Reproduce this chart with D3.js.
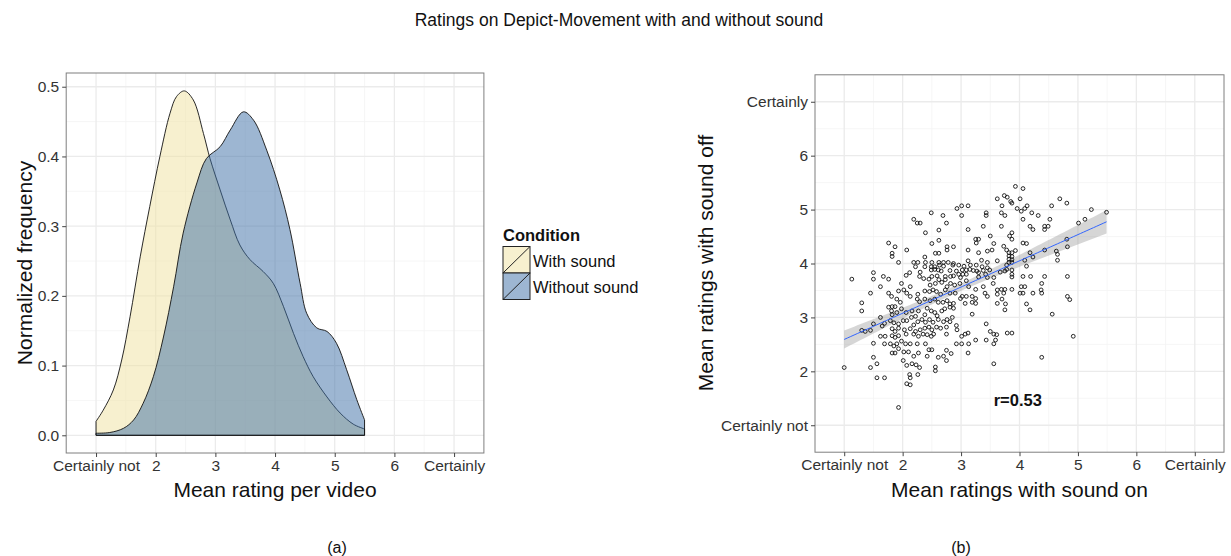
<!DOCTYPE html>
<html>
<head>
<meta charset="utf-8">
<script src="https://cdn.jsdelivr.net/npm/d3@7"></script>
<style>
  body { margin: 0; background: #fff; }
  text { font-family: "Liberation Sans", Arial, sans-serif; }
</style>
</head>
<body>
<svg id="chart" width="1231" height="556"></svg>
<script>
// ---- data ---------------------------------------------------------------
const titleText = "Ratings on Depict-Movement with and without sound";

const ratingTicks = [1, 2, 3, 4, 5, 6, 7];
const ratingTickLabels = ["Certainly not", "2", "3", "4", "5", "6", "Certainly"];
const freqTicks = [0, 0.1, 0.2, 0.3, 0.4, 0.5];

const conditions = ["With sound", "Without sound"];

// normalized density of mean rating per video: [rating, frequency]
const densityWithSound = [
  [1.00, 0.020], [1.12, 0.036], [1.29, 0.065], [1.43, 0.108], [1.57, 0.170],
  [1.74, 0.256], [1.90, 0.328], [2.07, 0.400], [2.24, 0.462], [2.35, 0.486],
  [2.48, 0.494], [2.63, 0.481], [2.80, 0.433], [2.91, 0.397], [3.08, 0.352],
  [3.25, 0.309], [3.41, 0.273], [3.58, 0.252], [3.80, 0.235], [3.97, 0.218],
  [4.14, 0.185], [4.31, 0.146], [4.47, 0.113], [4.64, 0.084], [4.87, 0.055],
  [5.09, 0.032], [5.31, 0.016], [5.50, 0.009]
];
const densityWithoutSound = [
  [1.00, 0.003], [1.23, 0.004], [1.46, 0.010], [1.63, 0.022], [1.79, 0.046],
  [1.96, 0.084], [2.13, 0.141], [2.30, 0.213], [2.46, 0.290], [2.69, 0.362],
  [2.85, 0.397], [3.08, 0.414], [3.25, 0.438], [3.47, 0.464], [3.64, 0.452],
  [3.86, 0.409], [4.08, 0.352], [4.25, 0.295], [4.42, 0.218], [4.53, 0.175],
  [4.70, 0.154], [4.87, 0.149], [5.03, 0.132], [5.20, 0.094], [5.37, 0.051],
  [5.50, 0.022]
];

// per-video mean ratings: [sound on, sound off]
const ratingPairs = [
  [3.93,5.43],[4.06,5.39],[3.62,5.20],[3.74,5.26],[3.79,5.23],[3.85,5.15],[3.87,5.12],[4.01,5.20],
  [4.69,5.20],[4.81,5.12],[2.93,5.02],[3.01,5.07],[3.12,5.07],[3.70,5.07],[3.96,5.02],[4.13,5.07],
  [4.03,4.97],[4.09,5.02],[4.55,5.07],[5.23,5.00],[5.49,4.95],[2.49,4.94],[2.69,4.89],[3.01,4.89],
  [3.43,4.94],[3.43,4.89],[3.69,4.94],[3.75,4.89],[4.21,4.94],[4.32,4.89],[2.19,4.82],[2.25,4.75],
  [2.30,4.75],[2.75,4.75],[4.06,4.82],[4.52,4.82],[5.01,4.75],[5.12,4.82],[3.38,4.69],[3.69,4.69],
  [4.18,4.69],[4.23,4.63],[4.43,4.69],[4.49,4.69],[4.43,4.63],[3.12,4.63],[2.62,4.62],[2.39,4.57],
  [3.87,4.57],[3.83,4.51],[3.50,4.51],[3.25,4.45],[3.30,4.45],[3.87,4.45],[3.26,4.38],[3.56,4.37],
  [2.62,4.43],[2.50,4.37],[4.81,4.45],[4.82,4.31],[1.76,4.38],[1.87,4.31],[2.76,4.31],[2.87,4.31],
  [4.06,4.38],[4.12,4.37],[3.73,4.32],[3.78,4.25],[3.53,4.25],[3.45,4.23],[3.12,4.25],[2.07,4.25],
  [4.18,4.20],[4.43,4.25],[4.63,4.23],[1.82,4.19],[1.82,4.13],[2.56,4.19],[2.62,4.19],[2.38,4.12],
  [2.76,4.25],[3.30,4.20],[3.82,4.20],[3.87,4.20],[3.93,4.24],[3.82,4.14],[3.87,4.13],[3.82,4.08],
  [3.87,4.07],[4.23,4.12],[4.65,4.17],[1.93,4.02],[2.19,4.02],[2.26,4.02],[2.39,4.02],[2.50,4.02],
  [2.62,4.02],[2.70,4.02],[2.78,4.02],[2.87,4.00],[3.12,4.05],[3.35,4.06],[3.45,4.02],[3.62,4.05],
  [3.82,4.02],[3.87,4.02],[4.09,4.06],[4.65,4.06],[2.22,3.94],[2.38,3.94],[2.49,3.94],[2.55,3.94],
  [2.63,3.97],[2.70,3.95],[2.86,3.97],[2.96,3.97],[3.05,3.95],[3.16,3.97],[3.26,3.97],[3.36,3.94],
  [3.45,3.92],[3.78,3.97],[4.12,3.95],[2.12,3.83],[2.30,3.84],[2.49,3.88],[2.55,3.89],[2.61,3.88],
  [2.66,3.86],[2.81,3.87],[2.92,3.86],[3.02,3.88],[3.09,3.88],[3.15,3.89],[3.21,3.87],[3.27,3.86],
  [3.30,3.83],[3.38,3.87],[3.49,3.88],[3.67,3.84],[3.75,3.86],[3.78,3.89],[3.87,3.88],[1.50,3.83],
  [1.13,3.71],[1.50,3.71],[1.67,3.76],[1.76,3.71],[2.06,3.78],[2.29,3.76],[2.36,3.72],[2.45,3.71],
  [2.50,3.76],[2.59,3.77],[2.73,3.76],[2.82,3.76],[2.87,3.77],[2.96,3.80],[3.03,3.80],[3.09,3.80],
  [2.99,3.74],[3.30,3.75],[3.42,3.80],[3.45,3.74],[3.56,3.74],[3.87,3.80],[3.87,3.75],[4.06,3.76],
  [4.19,3.76],[4.43,3.76],[4.82,3.76],[1.62,3.57],[1.98,3.63],[2.13,3.57],[2.02,3.51],[2.47,3.60],
  [2.56,3.63],[2.62,3.70],[2.67,3.65],[2.73,3.70],[2.76,3.57],[2.82,3.63],[2.89,3.60],[2.98,3.63],
  [3.09,3.68],[3.13,3.57],[3.25,3.52],[3.38,3.57],[3.55,3.63],[3.62,3.51],[3.69,3.52],[3.75,3.52],
  [3.87,3.52],[4.03,3.57],[4.09,3.57],[4.38,3.63],[4.37,3.51],[1.45,3.45],[1.76,3.45],[1.81,3.39],
  [1.93,3.49],[2.07,3.45],[2.13,3.39],[2.26,3.43],[2.38,3.49],[2.46,3.48],[2.52,3.51],[2.58,3.48],
  [2.65,3.43],[2.73,3.51],[2.81,3.45],[2.90,3.45],[3.02,3.39],[3.09,3.39],[3.19,3.39],[3.25,3.35],
  [3.41,3.45],[3.45,3.39],[3.62,3.43],[3.73,3.45],[4.01,3.45],[4.06,3.45],[4.23,3.45],[4.38,3.45],
  [1.30,3.27],[1.30,3.12],[1.82,3.20],[1.90,3.34],[1.96,3.28],[2.25,3.34],[2.29,3.29],[2.38,3.34],
  [2.47,3.31],[2.55,3.34],[2.61,3.28],[2.69,3.28],[2.76,3.31],[2.81,3.25],[2.87,3.26],[2.99,3.35],
  [3.07,3.26],[3.19,3.28],[3.25,3.26],[3.62,3.26],[3.70,3.34],[3.76,3.25],[4.12,3.25],[4.18,3.14],
  [4.82,3.39],[4.86,3.33],[3.75,3.14],[1.62,3.00],[1.76,3.19],[1.81,3.12],[1.87,3.20],[1.82,3.05],
  [1.90,3.09],[1.98,3.16],[2.06,3.09],[2.16,3.12],[2.22,3.02],[2.27,3.12],[2.38,3.05],[2.42,3.17],
  [2.49,3.12],[2.55,3.09],[2.59,3.03],[2.67,3.12],[2.72,3.16],[2.81,3.19],[2.87,3.17],[2.85,3.00],
  [3.19,3.06],[4.56,3.06],[1.65,2.84],[1.69,2.89],[1.79,2.94],[1.85,2.90],[1.93,2.88],[2.01,2.94],
  [2.07,2.94],[2.15,3.00],[2.19,2.86],[2.26,2.92],[2.33,2.96],[2.39,2.91],[2.46,2.96],[2.52,2.91],
  [2.61,2.96],[2.70,2.92],[2.76,2.96],[2.81,2.92],[1.30,2.76],[1.36,2.74],[1.45,2.76],[1.50,2.88],
  [1.82,2.79],[1.87,2.74],[1.93,2.80],[2.03,2.77],[2.13,2.79],[2.22,2.74],[2.30,2.77],[2.38,2.80],
  [2.45,2.82],[2.50,2.77],[2.58,2.82],[2.65,2.80],[2.75,2.82],[2.92,2.85],[2.93,2.77],[3.43,2.88],
  [1.50,2.52],[1.62,2.65],[1.70,2.65],[1.82,2.66],[1.87,2.63],[1.93,2.66],[1.98,2.56],[2.06,2.69],
  [2.19,2.69],[2.27,2.65],[2.35,2.69],[2.42,2.68],[2.49,2.65],[2.53,2.69],[2.75,2.69],[3.01,2.65],
  [3.07,2.69],[3.12,2.71],[3.50,2.74],[3.56,2.69],[3.61,2.68],[3.79,2.71],[3.87,2.71],[4.92,2.65],
  [1.69,2.51],[1.79,2.51],[1.85,2.47],[1.90,2.51],[1.93,2.42],[2.05,2.51],[2.13,2.51],[2.25,2.51],
  [2.39,2.51],[2.45,2.40],[2.50,2.40],[2.92,2.51],[3.01,2.51],[3.13,2.51],[3.25,2.58],[3.43,2.58],
  [3.56,2.51],[3.59,2.58],[1.82,2.34],[1.87,2.34],[2.02,2.36],[2.10,2.36],[2.19,2.28],[2.27,2.34],
  [2.42,2.28],[2.61,2.26],[2.70,2.28],[2.75,2.39],[2.83,2.33],[3.12,2.34],[1.50,2.26],[2.01,2.20],
  [2.16,2.14],[2.23,2.12],[2.29,2.07],[2.75,2.20],[2.56,2.08],[2.56,2.01],[3.56,2.14],[4.38,2.26],
  [1.00,2.07],[1.45,2.07],[1.56,2.14],[1.56,1.88],[1.69,1.88],[2.07,2.11],[2.12,1.94],[2.13,1.88],
  [2.26,1.94],[2.07,1.77],[2.13,1.75],[1.93,1.33]
];

const corrLabel = "r=0.53";
const corrLabelAt = [3.97, 1.47];

// ---- drawing ------------------------------------------------------------
const svg = d3.select("#chart");
const gridMajor = "#ebebeb", gridMinor = "#f4f4f4", borderCol = "#7f7f7f", tickTextCol = "#333";
const fills = ["#efe2a0", "#3b6da6"];
const fillOpacity = [0.5, 0.5];
const tickFont = "15.5px", titleFont = "21px", legendFont = "16.5px";

svg.append("text")
  .attr("x", 619).attr("y", 26).attr("text-anchor", "middle")
  .style("font-size", "17.5px").attr("fill", "#111")
  .text(titleText);

function halfSteps(ticks) {
  const out = [];
  for (let i = 0; i < ticks.length - 1; i++) out.push((ticks[i] + ticks[i + 1]) / 2);
  return out;
}

function panel(x, y, xMajor, yMajor) {
  const g = svg.append("g");
  const [x0, x1] = x.range(), [y0, y1] = y.range();
  g.selectAll(".vmin").data(halfSteps(xMajor)).join("line")
    .attr("x1", d => x(d)).attr("x2", d => x(d)).attr("y1", y0).attr("y2", y1)
    .attr("stroke", gridMinor).attr("stroke-width", 0.8);
  g.selectAll(".hmin").data(halfSteps(yMajor)).join("line")
    .attr("y1", d => y(d)).attr("y2", d => y(d)).attr("x1", x0).attr("x2", x1)
    .attr("stroke", gridMinor).attr("stroke-width", 0.8);
  g.selectAll(".vmaj").data(xMajor).join("line")
    .attr("x1", d => x(d)).attr("x2", d => x(d)).attr("y1", y0).attr("y2", y1)
    .attr("stroke", gridMajor).attr("stroke-width", 1.3);
  g.selectAll(".hmaj").data(yMajor).join("line")
    .attr("y1", d => y(d)).attr("y2", d => y(d)).attr("x1", x0).attr("x2", x1)
    .attr("stroke", gridMajor).attr("stroke-width", 1.3);
  return g;
}

function border(x, y) {
  const [x0, x1] = x.range(), [y0, y1] = y.range();
  svg.append("rect").attr("x", x0).attr("y", y1).attr("width", x1 - x0).attr("height", y0 - y1)
    .attr("fill", "none").attr("stroke", borderCol).attr("stroke-width", 1);
}

function styleAxis(g) {
  g.select(".domain").remove();
  g.selectAll(".tick line").attr("stroke", "#444");
  g.selectAll(".tick text").attr("fill", tickTextCol).style("font-size", tickFont)
    .style("font-family", "'Liberation Sans', Arial, sans-serif");
}

// ---- (a) density panel ----
const xa = d3.scaleLinear().domain([0.5, 7.5]).range([66.2, 483.9]);
const ya = d3.scaleLinear().domain([-0.0254, 0.5197]).range([453, 73]);
panel(xa, ya, ratingTicks, freqTicks);

const densityLine = d3.line().x(d => xa(d[0])).y(d => ya(d[1])).curve(d3.curveCatmullRom.alpha(0.5));
[densityWithSound, densityWithoutSound].forEach((series, i) => {
  // closed outline: baseline, left edge, density curve, right edge
  const first = series[0], last = series[series.length - 1];
  const outline = `M${xa(last[0])},${ya(0)}L${xa(first[0])},${ya(0)}L` + densityLine(series).slice(1) + "Z";
  svg.append("path").attr("d", outline)
    .attr("fill", fills[i]).attr("fill-opacity", fillOpacity[i])
    .attr("stroke", "#111").attr("stroke-width", 0.9).attr("stroke-linejoin", "round");
});
border(xa, ya);

svg.append("g").attr("transform", "translate(0,453)")
  .call(d3.axisBottom(xa).tickValues(ratingTicks).tickFormat((d, i) => ratingTickLabels[i]).tickSize(4).tickPadding(3))
  .call(styleAxis);
svg.append("g").attr("transform", "translate(66.2,0)")
  .call(d3.axisLeft(ya).tickValues(freqTicks).tickFormat(d3.format(".1f")).tickSize(4).tickPadding(3))
  .call(styleAxis);

svg.append("text").attr("x", 275).attr("y", 497).attr("text-anchor", "middle")
  .style("font-size", titleFont).attr("fill", "#111").text("Mean rating per video");
svg.append("text").attr("transform", "translate(32,263) rotate(-90)").attr("text-anchor", "middle")
  .style("font-size", titleFont).attr("fill", "#111").text("Normalized frequency");

// legend
const lg = svg.append("g").attr("transform", "translate(503,0)");
lg.append("text").attr("x", 0).attr("y", 241).style("font-size", legendFont).style("font-weight", "bold")
  .attr("fill", "#111").text("Condition");
conditions.forEach((c, i) => {
  const ky = 246.5 + i * 26.5;
  lg.append("rect").attr("x", 0).attr("y", ky).attr("width", 27).attr("height", 26.5).attr("fill", "#fff");
  lg.append("rect").attr("x", 0).attr("y", ky).attr("width", 27).attr("height", 26.5)
    .attr("fill", fills[i]).attr("fill-opacity", fillOpacity[i])
    .attr("stroke", "#222").attr("stroke-width", 1);
  lg.append("line").attr("x1", 0).attr("y1", ky + 26.5).attr("x2", 27).attr("y2", ky)
    .attr("stroke", "#222").attr("stroke-width", 1);
  lg.append("text").attr("x", 30).attr("y", ky + 20).style("font-size", legendFont).attr("fill", "#111").text(c);
});

// ---- (b) scatter panel ----
const xb = d3.scaleLinear().domain([0.5, 7.5]).range([815, 1224]);
const yb = d3.scaleLinear().domain([0.5, 7.5]).range([452.2, 74.8]);
panel(xb, yb, ratingTicks, ratingTicks);

// least-squares fit with 95% confidence band
const n = ratingPairs.length;
const mx = d3.mean(ratingPairs, d => d[0]), my = d3.mean(ratingPairs, d => d[1]);
const sxx = d3.sum(ratingPairs, d => (d[0] - mx) ** 2);
const sxy = d3.sum(ratingPairs, d => (d[0] - mx) * (d[1] - my));
const slope = sxy / sxx, intercept = my - slope * mx;
const resid = d3.sum(ratingPairs, d => (d[1] - (intercept + slope * d[0])) ** 2);
const se = Math.sqrt(resid / (n - 2));
const tCrit = 1.966;
const [xmin, xmax] = d3.extent(ratingPairs, d => d[0]);
const fitXs = d3.range(0, 81).map(i => xmin + (xmax - xmin) * i / 80);
const fit = fitXs.map(xv => {
  const yh = intercept + slope * xv;
  const h = tCrit * se * Math.sqrt(1 / n + (xv - mx) ** 2 / sxx);
  return { x: xv, y: yh, lo: yh - h, hi: yh + h };
});

svg.append("path").datum(fit)
  .attr("d", d3.area().x(d => xb(d.x)).y0(d => yb(d.lo)).y1(d => yb(d.hi)))
  .attr("fill", "#999").attr("fill-opacity", 0.4);

svg.append("g").selectAll("circle").data(ratingPairs).join("circle")
  .attr("cx", d => xb(d[0])).attr("cy", d => yb(d[1])).attr("r", 1.9)
  .attr("fill", "none").attr("stroke", "#111").attr("stroke-width", 0.9);

svg.append("path").datum(fit)
  .attr("d", d3.line().x(d => xb(d.x)).y(d => yb(d.y)))
  .attr("fill", "none").attr("stroke", "#3366ff").attr("stroke-width", 1);

svg.append("text").attr("x", xb(corrLabelAt[0])).attr("y", yb(corrLabelAt[1]) + 6)
  .attr("text-anchor", "middle").style("font-size", "16.5px").style("font-weight", "bold")
  .attr("fill", "#111").text(corrLabel);

border(xb, yb);

svg.append("g").attr("transform", "translate(0,452.2)")
  .call(d3.axisBottom(xb).tickValues(ratingTicks).tickFormat((d, i) => ratingTickLabels[i]).tickSize(4).tickPadding(3))
  .call(styleAxis);
svg.append("g").attr("transform", "translate(815,0)")
  .call(d3.axisLeft(yb).tickValues(ratingTicks).tickFormat((d, i) => ratingTickLabels[i]).tickSize(4).tickPadding(3))
  .call(styleAxis);

svg.append("text").attr("x", 1019.5).attr("y", 497).attr("text-anchor", "middle")
  .style("font-size", titleFont).attr("fill", "#111").text("Mean ratings with sound on");
svg.append("text").attr("transform", "translate(713,263) rotate(-90)").attr("text-anchor", "middle")
  .style("font-size", titleFont).attr("fill", "#111").text("Mean ratings with sound off");

// captions
svg.append("text").attr("x", 337).attr("y", 553).attr("text-anchor", "middle")
  .style("font-size", "16px").attr("fill", "#111").text("(a)");
svg.append("text").attr("x", 961).attr("y", 553).attr("text-anchor", "middle")
  .style("font-size", "16px").attr("fill", "#111").text("(b)");
</script>
</body>
</html>
